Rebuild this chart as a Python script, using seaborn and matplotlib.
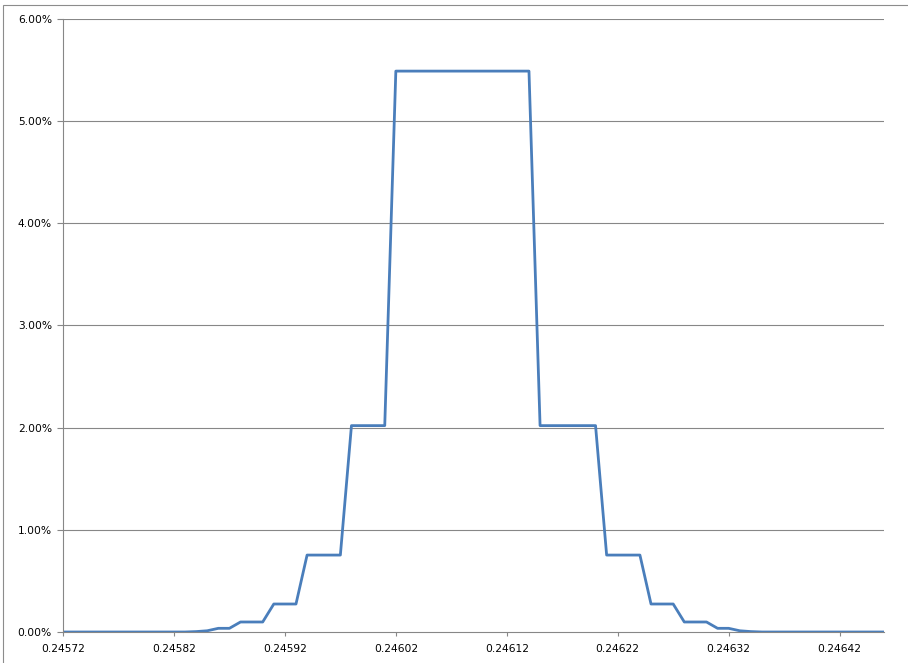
import numpy as np
import pandas as pd
import matplotlib
matplotlib.use("Agg")
import matplotlib.pyplot as plt
from matplotlib.patches import Rectangle
import seaborn as sns

# x categories: 0.24572 .. 0.24646 in steps of 0.00001
x_labels = ["%.5f" % v for v in np.round(np.arange(24572, 24647) / 100000, 5)]

# share of values per category
share = [
    0.0, 0.0, 0.0, 0.0, 0.0, 0.0, 0.0, 0.0, 0.0, 0.0,
    0.0, 0.0, 0.00004, 0.00012, 0.00036, 0.00036, 0.00098, 0.00098, 0.00098, 0.00274,
    0.00274, 0.00274, 0.00753, 0.00753, 0.00753, 0.00753, 0.0202, 0.0202, 0.0202, 0.0202,
    0.0549, 0.0549, 0.0549, 0.0549, 0.0549, 0.0549, 0.0549, 0.0549, 0.0549, 0.0549,
    0.0549, 0.0549, 0.0549, 0.0202, 0.0202, 0.0202, 0.0202, 0.0202, 0.0202, 0.00753,
    0.00753, 0.00753, 0.00753, 0.00274, 0.00274, 0.00274, 0.00098, 0.00098, 0.00098, 0.00036,
    0.00036, 0.00012, 0.00004, 0.0, 0.0, 0.0, 0.0, 0.0, 0.0, 0.0,
    0.0, 0.0, 0.0, 0.0, 0.0,
]

y_ticks = [0.0, 0.01, 0.02, 0.03, 0.04, 0.05, 0.06]
y_tick_labels = ["0.00%", "1.00%", "2.00%", "3.00%", "4.00%", "5.00%", "6.00%"]

df = pd.DataFrame({"x": x_labels, "share": share})

sns.set_style("white")
plt.rcParams["font.family"] = ["DejaVu Sans"]

fig = plt.figure(figsize=(9.08, 6.63), dpi=100)
ax = fig.add_axes([63 / 908, 31 / 663, 821 / 908, 613 / 663])

sns.lineplot(data=df, x="x", y="share", ax=ax, color="#4A7EBB", linewidth=2.0, sort=False)

grid_c = "#878787"
ax.set_xlim(0, len(x_labels) - 1)
ax.set_ylim(0, 0.06)
ax.set_yticks(y_ticks)
ax.set_yticklabels(y_tick_labels)
xt = list(range(0, len(x_labels), 10))
ax.set_xticks(xt)
ax.set_xticklabels([x_labels[i] for i in xt])
for yv in y_ticks[1:]:
    ax.axhline(yv, color=grid_c, lw=0.8, zorder=0)

ax.set_xlabel("")
ax.set_ylabel("")
for s in ["top", "right"]:
    ax.spines[s].set_visible(False)
for s in ["left", "bottom"]:
    ax.spines[s].set_color(grid_c)
    ax.spines[s].set_linewidth(0.8)
ax.tick_params(axis="y", length=4, width=0.8, color=grid_c, pad=4, labelsize=7.7,
               labelcolor="black", direction="out", left=True)
ax.tick_params(axis="x", length=3, width=0.8, color=grid_c, pad=6, labelsize=7.7,
               labelcolor="black", direction="out", bottom=True)

# outer chart border
fig.patches.append(Rectangle((3 / 908, -0.05), 1.1, (663 - 5) / 663 + 0.05,
                             transform=fig.transFigure, fill=False,
                             edgecolor="#8c8c8c", lw=0.8))

fig.savefig("out.png", dpi=100)
